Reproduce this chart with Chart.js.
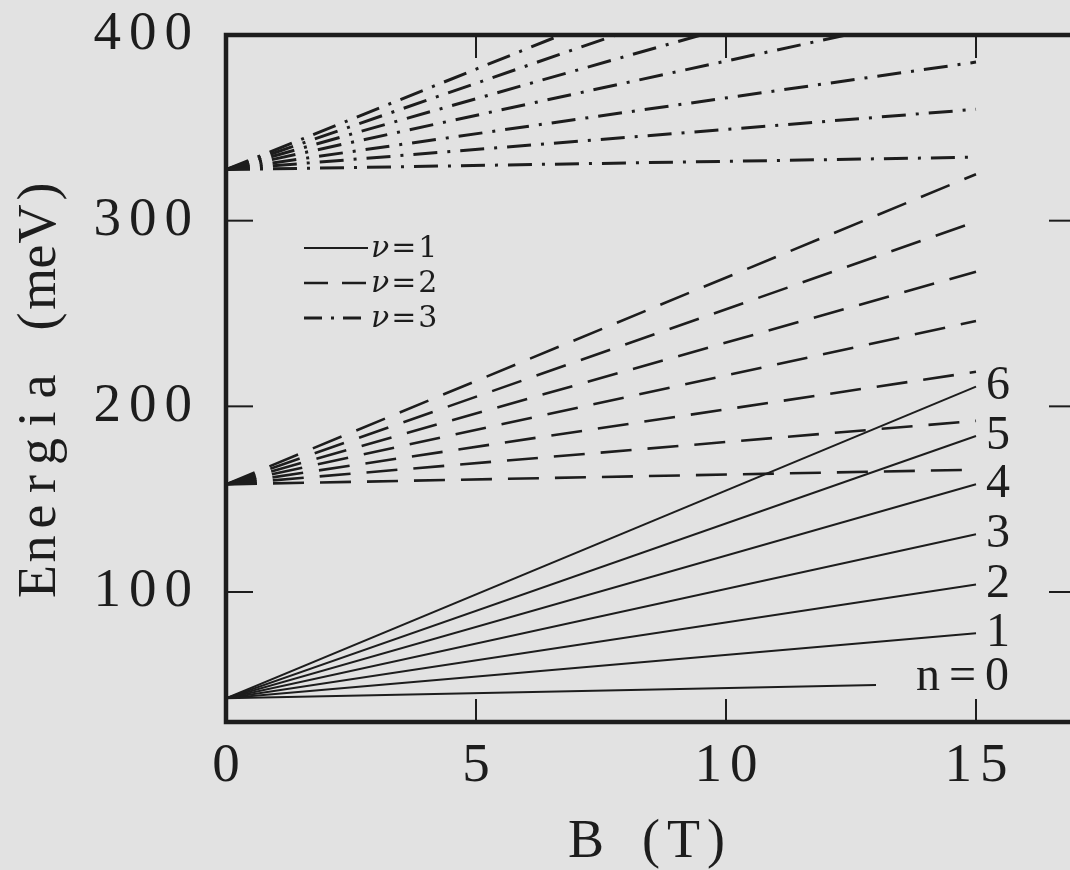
<!DOCTYPE html>
<html>
<head>
<meta charset="utf-8">
<title>Energia vs B</title>
<script src="https://cdn.jsdelivr.net/npm/chart.js@4.4.1/dist/chart.umd.min.js"></script>
<style>
  html, body { margin: 0; padding: 0; background: #e2e2e2; width: 1070px; height: 870px; overflow: hidden; }
  #wrap { position: absolute; left: 0; top: 0; width: 1090px; height: 870px; }
  canvas { display: block; }
</style>
</head>
<body>
<div id="wrap"><canvas id="chart" width="1090" height="870"></canvas></div>
<script>
// Landau levels n = 0..6 of the three subbands (B in tesla, E in meV)
const levels = [0, 1, 2, 3, 4, 5, 6];

// subband nu = 1 (solid)
const nu1E0   = 42.8;
const nu1Bend = [13, 15, 15, 15, 15, 15, 15];
const nu1Eend = [49.9, 77.8, 104.1, 131.1, 158.0, 184.0, 210.6];

// subband nu = 2 (dashed)
const nu2E0   = 158.0;
const nu2Bend = [15, 15, 15, 15, 15, 15, 15];
const nu2Eend = [165.9, 192.2, 218.6, 246.0, 272.5, 299.5, 325.0];

// subband nu = 3 (dash-dot), upper levels leave the frame at 400 meV
const nu3E0   = 327.5;
const nu3Bend = [15, 15, 15, 12.4, 9.5, 7.8, 6.7];
const nu3Eend = [334.2, 360.0, 385.4, 400, 400, 400, 400];

const xTicks = [0, 5, 10, 15];
const yTicks = [100, 200, 300, 400];
const xTitle = 'B (T)';
const yTitle = 'Energia (meV)';
const levelLabels  = ['n=0', '1', '2', '3', '4', '5', '6'];
const legendLabels = ['1', '2', '3'];

const INK = '#1d1d1d';
const SERIF = "'Liberation Serif', 'DejaVu Serif', serif";
const AXIS_SPACING = '8px';

const styles = [
  { width: 2.0, dash: [],              sample: [] },
  { width: 2.6, dash: [31, 16],        sample: [24, 14] },
  { width: 3.0, dash: [24, 10, 3, 10], sample: [18, 9, 3, 9] }
];

function subband(E0, Bend, Eend, st) {
  return levels.map((n, i) => ({
    label: 'n=' + n,
    data: [{ x: 0, y: E0 }, { x: Bend[i], y: Eend[i] }],
    showLine: true,
    borderColor: INK,
    borderWidth: st.width,
    borderDash: st.dash,
    borderCapStyle: 'butt',
    pointRadius: 0,
    pointHoverRadius: 0,
    fill: false,
    tension: 0
  }));
}

const datasets = [
  ...subband(nu1E0, nu1Bend, nu1Eend, styles[0]),
  ...subband(nu2E0, nu2Bend, nu2Eend, styles[1]),
  ...subband(nu3E0, nu3Bend, nu3Eend, styles[2])
];

// wide, typewriter-like spacing for the tick numbers
const spacingPlugin = {
  id: 'spacing',
  beforeLayout(chart) { chart.ctx.letterSpacing = AXIS_SPACING; },
  beforeDraw(chart) { chart.ctx.letterSpacing = AXIS_SPACING; },
  afterDraw(chart) { chart.ctx.letterSpacing = '0px'; }
};

// text set in fixed-width cells, like a typewriter
function drawCells(ctx, text, cx, cy, cell, angle) {
  ctx.save();
  ctx.translate(cx, cy);
  ctx.rotate(angle);
  ctx.textAlign = 'center';
  ctx.textBaseline = 'alphabetic';
  const chars = [...text];
  chars.forEach((ch, i) => ctx.fillText(ch, (i - (chars.length - 1) / 2) * cell, 0));
  ctx.restore();
}

// heavy frame with inward ticks on all four sides, plus the axis titles
const framePlugin = {
  id: 'frame',
  afterDatasetsDraw(chart) {
    const { ctx, chartArea: a, scales: { x, y } } = chart;
    const seg = (x1, y1, x2, y2) => { ctx.beginPath(); ctx.moveTo(x1, y1); ctx.lineTo(x2, y2); ctx.stroke(); };
    ctx.save();
    ctx.letterSpacing = '0px';
    ctx.strokeStyle = INK;
    ctx.setLineDash([]);
    ctx.lineWidth = 2;
    xTicks.forEach(v => {
      if (v === 0) return;
      const px = x.getPixelForValue(v);
      seg(px, a.bottom, px, a.bottom - 23);
      seg(px, a.top, px, a.top + 23);
    });
    yTicks.forEach(v => {
      if (v >= 400) return;
      const py = y.getPixelForValue(v);
      seg(a.left, py, a.left + 27, py);
      seg(a.right, py, a.right - 27, py);
    });
    ctx.lineWidth = 4.5;
    ctx.strokeRect(a.left, a.top, a.right - a.left, a.bottom - a.top);

    ctx.fillStyle = INK;
    ctx.font = '54px ' + SERIF;
    drawCells(ctx, xTitle, (a.left + a.right) / 2, a.bottom + 135, 32.5, 0);
    drawCells(ctx, yTitle, a.left - 171, (a.top + a.bottom) / 2 + 8, 32.5, -Math.PI / 2);
    ctx.restore();
  }
};

// level numbers at the end of the nu = 1 lines, and the line-style key
const labelPlugin = {
  id: 'labels',
  afterDraw(chart) {
    const { ctx, chartArea: a, scales: { x, y } } = chart;
    ctx.save();
    ctx.fillStyle = INK;
    ctx.textBaseline = 'middle';
    ctx.font = '48px ' + SERIF;
    const xEnd = x.getPixelForValue(15);
    levelLabels.forEach((t, i) => {
      if (i === 0) {
        ctx.letterSpacing = '9px';
        ctx.textAlign = 'right';
        ctx.fillText(t, xEnd + 42, y.getPixelForValue(nu1Eend[0]) - 8);
      } else {
        ctx.letterSpacing = '0px';
        ctx.textAlign = 'left';
        ctx.fillText(t, xEnd + 10, y.getPixelForValue(nu1Eend[i]));
      }
    });

    // key
    const x0 = a.left + 78, x1 = a.left + 142;
    ctx.letterSpacing = '2px';
    legendLabels.forEach((t, i) => {
      const yy = a.top + 213 + i * 35;
      ctx.strokeStyle = INK;
      ctx.lineWidth = styles[i].width;
      ctx.setLineDash(styles[i].sample);
      ctx.lineCap = 'butt';
      ctx.beginPath(); ctx.moveTo(x0, yy); ctx.lineTo(x1, yy); ctx.stroke();
      ctx.setLineDash([]);
      ctx.textAlign = 'left';
      ctx.font = "italic 30px 'DejaVu Serif', serif";
      ctx.fillText('\u03bd', x1 + 3, yy + 1);
      const w = ctx.measureText('\u03bd').width;
      ctx.font = "30px 'DejaVu Serif', serif";
      ctx.fillText('=' + t, x1 + 3 + w, yy + 1);
    });
    ctx.restore();
  }
};

// the plot box is placed by the layout padding alone
const noLabelOverhang = s => { s.paddingTop = 0; s.paddingBottom = 0; s.paddingLeft = 0; s.paddingRight = 0; };

new Chart(document.getElementById('chart'), {
  type: 'scatter',
  data: { datasets },
  options: {
    responsive: false,
    animation: false,
    devicePixelRatio: 1,
    layout: { padding: { left: 0, right: 14, top: 35, bottom: 0 } },
    plugins: { legend: { display: false }, tooltip: { enabled: false } },
    scales: {
      x: {
        type: 'linear', min: 0, max: 17,
        grid: { display: false, drawTicks: false },
        border: { display: false },
        afterBuildTicks: s => { s.ticks = xTicks.map(v => ({ value: v })); },
        afterFit: s => { s.height = 148; noLabelOverhang(s); },
        ticks: { color: INK, padding: 12, labelOffset: 4, maxRotation: 0, autoSkip: false,
                 font: { family: SERIF, size: 55 } },
        title: { display: false }
      },
      y: {
        type: 'linear', min: 30, max: 400,
        grid: { display: false, drawTicks: false },
        border: { display: false },
        afterBuildTicks: s => { s.ticks = yTicks.map(v => ({ value: v })); },
        afterFit: s => { s.width = 226; noLabelOverhang(s); },
        ticks: { color: INK, padding: 26, font: { family: SERIF, size: 55 } },
        title: { display: false }
      }
    }
  },
  plugins: [spacingPlugin, framePlugin, labelPlugin]
});
</script>
</body>
</html>
